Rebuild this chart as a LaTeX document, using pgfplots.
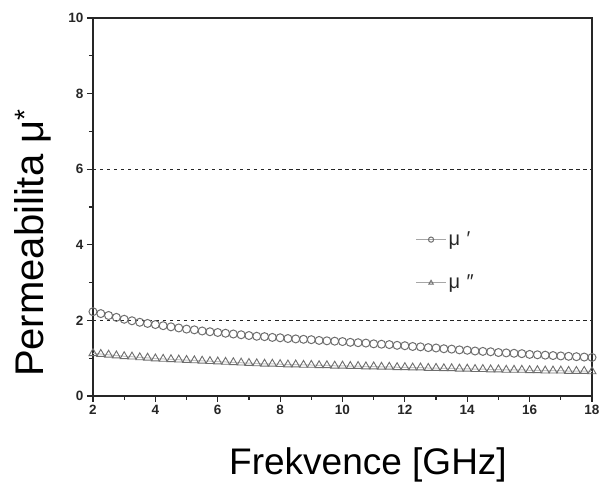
\documentclass[border=0pt]{standalone}
\usepackage{fontspec}
\setmainfont{Liberation Sans}
\usepackage{pgfplots}
\usepackage{pgfplotstable}
\pgfplotsset{compat=1.18}
\definecolor{markgray}{HTML}{6E6E6E}

% frequency [GHz], mu', mu''
\pgfplotstableread{
f     mur   mui
2.00  2.23  1.13
2.25  2.18  1.11
2.50  2.13  1.09
2.75  2.08  1.07
3.00  2.03  1.05
3.25  1.99  1.04
3.50  1.95  1.02
3.75  1.92  1.01
4.00  1.89  0.99
4.25  1.86  0.98
4.50  1.83  0.97
4.75  1.80  0.96
5.00  1.77  0.95
5.25  1.75  0.94
5.50  1.72  0.93
5.75  1.70  0.92
6.00  1.68  0.91
6.25  1.66  0.90
6.50  1.64  0.89
6.75  1.62  0.88
7.00  1.60  0.87
7.25  1.58  0.86
7.50  1.57  0.85
7.75  1.55  0.85
8.00  1.54  0.84
8.25  1.52  0.83
8.50  1.51  0.83
8.75  1.50  0.82
9.00  1.49  0.82
9.25  1.47  0.81
9.50  1.46  0.81
9.75  1.45  0.80
10.00 1.44  0.80
10.25 1.42  0.79
10.50 1.41  0.79
10.75 1.40  0.78
11.00 1.38  0.78
11.25 1.37  0.77
11.50 1.36  0.77
11.75 1.34  0.76
12.00 1.33  0.76
12.25 1.31  0.75
12.50 1.30  0.75
12.75 1.28  0.74
13.00 1.27  0.74
13.25 1.25  0.73
13.50 1.24  0.73
13.75 1.22  0.72
14.00 1.21  0.72
14.25 1.19  0.71
14.50 1.18  0.71
14.75 1.17  0.70
15.00 1.15  0.70
15.25 1.14  0.69
15.50 1.13  0.69
15.75 1.12  0.69
16.00 1.10  0.68
16.25 1.09  0.68
16.50 1.08  0.67
16.75 1.07  0.67
17.00 1.06  0.67
17.25 1.05  0.66
17.50 1.04  0.66
17.75 1.03  0.66
18.00 1.02  0.65
}\mudata

\begin{document}
\begin{tikzpicture}
\begin{axis}[
  at={(0pt,0pt)}, anchor=south west,
  width=499pt, height=378pt, scale only axis,
  xmin=2, xmax=18, ymin=0, ymax=10,
  xtick={2,4,...,18}, ytick={0,2,...,10},
  minor x tick num=1, minor y tick num=1,
  tick pos=left, tick align=outside,
  major tick length=6pt, minor tick length=4pt,
  axis line style={line width=1.6pt, black!85},
  tick style={line width=1.2pt, black!85},
  tick label style={font=\fontsize{13.5}{15}\selectfont\bfseries, text=black!85},
  /pgf/number format/assume math mode=true,
  clip=false,
  legend style={draw=none, fill=none, at={(0.64,0.445)}, anchor=north west,
    font=\fontsize{20}{22}\selectfont, row sep=24pt, text=black!85},
  legend cell align=left,
  legend image code/.code={
    \draw[#1,mark=none,draw=gray!70,line width=1pt] (0pt,0pt) -- (30pt,0pt);
    \draw[#1,only marks,mark size=2.6pt] plot coordinates {(15pt,0pt)};
  },
]
  \draw[black!85,line width=0.9pt,dash pattern=on 3.5pt off 3.5pt]
    (axis cs:2,6) -- (axis cs:18,6);
  \draw[black!85,line width=0.9pt,dash pattern=on 3.5pt off 3.5pt]
    (axis cs:2,2) -- (axis cs:18,2);
  \addplot[only marks, mark=o, mark size=4pt,
    mark options={draw=markgray, line width=1pt, fill=white}]
    table[x=f, y=mur] {\mudata};
  \addlegendentry{μ\,\,′}
  \addplot[draw=gray!45, line width=1pt, mark=triangle, mark size=4.6pt,
    mark options={draw=markgray, line width=0.9pt}]
    table[x=f, y=mui] {\mudata};
  \addlegendentry{μ\,\,″}
\end{axis}
\node[font=\fontsize{37}{40}\selectfont] at (275pt,-69pt) {Frekvence [GHz]};
\node[font=\fontsize{40}{44}\selectfont, rotate=90] at (-60pt,153pt) {Permeabilita μ\textsuperscript{*}};
\pgfresetboundingbox
\path (-93pt,-90pt) rectangle (513pt,396pt);
\end{tikzpicture}
\end{document}
